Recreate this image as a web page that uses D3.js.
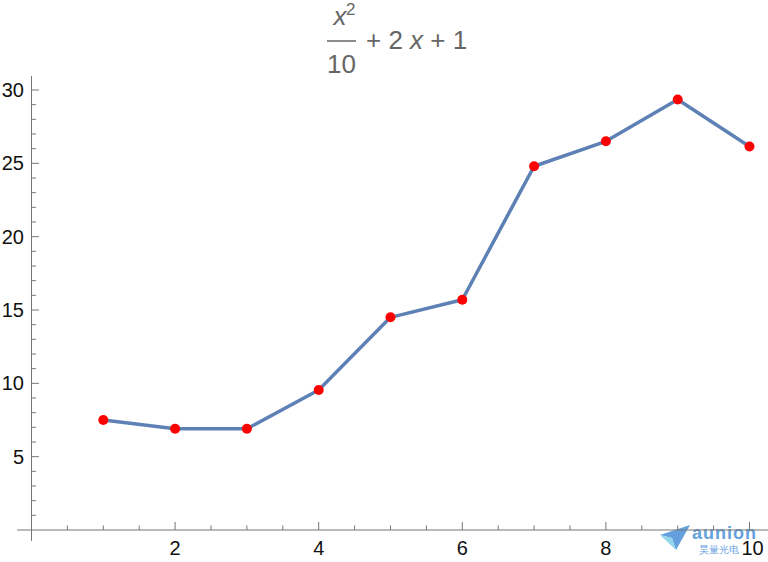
<!DOCTYPE html>
<html><head><meta charset="utf-8">
<script src="https://cdn.jsdelivr.net/npm/d3@7"></script>
<style>body{margin:0;background:#fff}svg{display:block}text{font-family:"Liberation Sans",Arial,sans-serif}</style>
</head><body>
<svg id="c" width="768" height="562"></svg>
<script>
const xs = [1,2,3,4,5,6,7,8,9,10];
const ys = [7.5,6.9,6.9,9.55,14.5,15.7,24.8,26.5,29.35,26.15];
const xMajor = [2,4,6,8,10];
const yMajor = [5,10,15,20,25,30];

const svg = d3.select("#c");
const x = d3.scaleLinear().domain([0,10]).range([31.5,749.5]);
const y = d3.scaleLinear().domain([0,30]).range([530,90]);
const axisCol = "#777";

const xMinor = d3.range(0.5,10.51,0.5).filter(v=>Math.abs(v%2)>1e-9);
const yMinor = d3.range(1,31,1).filter(v=>v%5!==0);

const g = svg.append("g");
g.append("line").attr("x1",x(-0.2)).attr("x2",768).attr("y1",y(0)).attr("y2",y(0)).attr("stroke",axisCol).attr("stroke-width",1);
g.append("line").attr("x1",x(0)).attr("x2",x(0)).attr("y1",y(30.95)).attr("y2",y(-0.75)).attr("stroke",axisCol).attr("stroke-width",1);

g.selectAll(".xmaj").data(xMajor).join("line").attr("x1",d=>x(d)).attr("x2",d=>x(d)).attr("y1",y(0)).attr("y2",y(0)-8).attr("stroke",axisCol);
g.selectAll(".xmin").data(xMinor).join("line").attr("x1",d=>x(d)).attr("x2",d=>x(d)).attr("y1",y(0)).attr("y2",y(0)-4.5).attr("stroke",axisCol);
g.selectAll(".ymaj").data(yMajor).join("line").attr("x1",x(0)).attr("x2",x(0)+7.5).attr("y1",d=>y(d)).attr("y2",d=>y(d)).attr("stroke",axisCol);
g.selectAll(".ymin").data(yMinor).join("line").attr("x1",x(0)).attr("x2",x(0)+4.5).attr("y1",d=>y(d)).attr("y2",d=>y(d)).attr("stroke",axisCol);

g.selectAll(".yl").data(yMajor).join("text").attr("x",x(0)-7.5).attr("y",d=>y(d)+7).attr("text-anchor","end").attr("font-size",20).attr("fill","#111").text(d=>d);

// line
svg.append("path").datum(xs.map((d,i)=>[d,ys[i]]))
  .attr("d",d3.line().x(d=>x(d[0])).y(d=>y(d[1])))
  .attr("fill","none").attr("stroke","#5E81B5").attr("stroke-width",3.5).attr("stroke-linejoin","round");
svg.selectAll(".pt").data(xs.map((d,i)=>[d,ys[i]])).join("circle")
  .attr("cx",d=>x(d[0])).attr("cy",d=>y(d[1])).attr("r",5).attr("fill","#FF0000");

// title
const tc = "#666";
const t = svg.append("g").attr("fill",tc);
t.append("text").attr("x",340).attr("y",25).attr("text-anchor","middle").attr("font-size",26).attr("font-style","italic").text("x");
t.append("text").attr("x",346).attr("y",15).attr("font-size",17).text("2");
t.append("line").attr("x1",327).attr("x2",356).attr("y1",41).attr("y2",41).attr("stroke",tc).attr("stroke-width",1.5);
t.append("text").attr("x",341.5).attr("y",73).attr("text-anchor","middle").attr("font-size",26).text("10");
t.append("text").attr("x",366).attr("y",49).attr("font-size",26).attr("xml:space","preserve")
  .html('+ 2 <tspan font-style="italic">x</tspan> + 1');

// watermark
const w = svg.append("g").attr("opacity",0.85);
w.append("path").attr("d","M660,535 L690,525 L676,550 L672,538 Z").attr("fill","#4a90d9");
w.append("path").attr("d","M660,535 L672,538 L676,550 Z").attr("fill","#80cfe8");
w.append("text").attr("x",692).attr("y",539).attr("font-size",18).attr("font-weight","bold").attr("fill","#4a90d9").attr("textLength",64).text("aunion");
w.append("text").attr("x",699).attr("y",553).attr("font-size",9.5).attr("fill","#4a90d9").attr("font-family","Noto Sans CJK SC").text("昊量光电");

g.selectAll(".xl").data(xMajor).join("text").attr("x",d=>x(d)+ (d===10?3:0)).attr("y",y(0)+25).attr("text-anchor","middle").attr("font-size",20).attr("fill","#111").text(d=>d);
svg.node().appendChild(g.node());
</script>
</body></html>
